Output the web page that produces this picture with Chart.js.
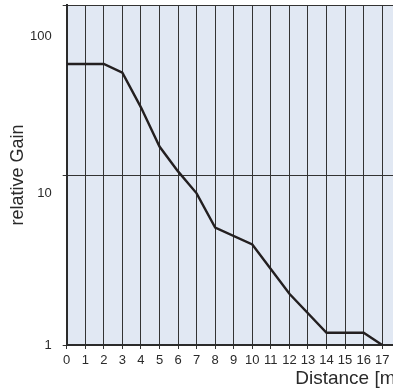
<!DOCTYPE html>
<html>
<head>
<meta charset="utf-8">
<script src="https://cdn.jsdelivr.net/npm/chart.js@4/dist/chart.umd.min.js"></script>
<style>
  html, body { margin: 0; padding: 0; background: #fff; overflow: hidden; }
  #wrap { width: 412px; height: 391px; }
</style>
</head>
<body>
<div id="wrap"><canvas id="gainChart" width="412" height="391"></canvas></div>
<script>
// distance in metres and the relative gain read at each corner of the curve
const distance = [0, 2, 3, 4, 5, 6, 7, 8, 10, 12, 14, 16, 17];
const gain = [45, 45, 40, 25, 14.7, 10.5, 7.8, 4.9, 3.9, 2.0, 1.18, 1.18, 1.0];

// gain gridlines and the printed gain labels (the labels sit a bit below their lines)
const gainGrid = [1, 10, 100];
const gainTickText = ['1', '10', '100'];
const gainTickAt = [1, 7.8, 65];

const ink = '#2a2a2a';

// paint the plot area light blue
const plotBg = {
    id: 'plotBg',
    beforeDraw(chart) {
        const a = chart.chartArea;
        const ctx = chart.ctx;
        ctx.save();
        ctx.fillStyle = '#e1e8f3';
        ctx.fillRect(a.left, a.top, a.right - a.left, a.bottom - a.top);
        ctx.restore();
    }
};

new Chart(document.getElementById('gainChart'), {
    type: 'line',
    data: {
        datasets: [{
            data: distance.map((d, i) => ({ x: d, y: gain[i] })),
            borderColor: '#231f20',
            borderWidth: 2.4,
            pointRadius: 0,
            tension: 0,
            fill: false
        }]
    },
    options: {
        responsive: false,
        animation: false,
        layout: { padding: { top: 5 } },
        plugins: {
            legend: { display: false },
            tooltip: { enabled: false }
        },
        scales: {
            x: {
                type: 'linear',
                min: 0,
                max: 18,
                afterBuildTicks: (s) => { s.ticks = []; for (let v = 0; v <= 18; v++) s.ticks.push({ value: v }); },
                afterFit: (s) => { s.height = 46; },
                grid: { color: '#333', lineWidth: 1, tickLength: 4 },
                border: { color: '#2b2b2b', width: 2 },
                ticks: {
                    color: ink,
                    font: { family: 'Liberation Sans, Arial, sans-serif', size: 13 },
                    padding: 4,
                    autoSkip: false,
                    minRotation: 0,
                    maxRotation: 0
                },
                title: {
                    display: true,
                    text: 'Distance [m]',
                    align: 'end',
                    color: ink,
                    font: { family: 'Liberation Sans, Arial, sans-serif', size: 19 },
                    padding: { top: 2, bottom: 1 }
                }
            },
            y: {
                type: 'logarithmic',
                position: 'left',
                weight: 0,
                min: 1,
                max: 100,
                afterBuildTicks: (s) => { s.ticks = gainGrid.map(v => ({ value: v })); },
                afterFit: (s) => { s.width = 4; s.paddingTop = 0; s.paddingBottom = 0; },
                grid: { color: '#333', lineWidth: 1, tickLength: 4 },
                border: { color: '#2b2b2b', width: 2 },
                ticks: { display: false }
            },
            yLab: {
                type: 'logarithmic',
                position: 'left',
                weight: 10,
                min: 1,
                max: 100,
                afterBuildTicks: (s) => { s.ticks = gainTickAt.map(v => ({ value: v })); },
                afterFit: (s) => { s.width = 62.7; s.paddingTop = 0; s.paddingBottom = 0; },
                grid: { display: false },
                border: { display: false },
                ticks: {
                    color: ink,
                    font: { family: 'Liberation Sans, Arial, sans-serif', size: 13 },
                    padding: 3,
                    callback: (v, i) => gainTickText[i]
                },
                title: {
                    display: true,
                    text: 'relative Gain',
                    color: ink,
                    font: { family: 'Liberation Sans, Arial, sans-serif', size: 18 },
                    padding: { top: 7, bottom: 0 }
                }
            }
        }
    },
    plugins: [plotBg]
});
</script>
</body>
</html>
